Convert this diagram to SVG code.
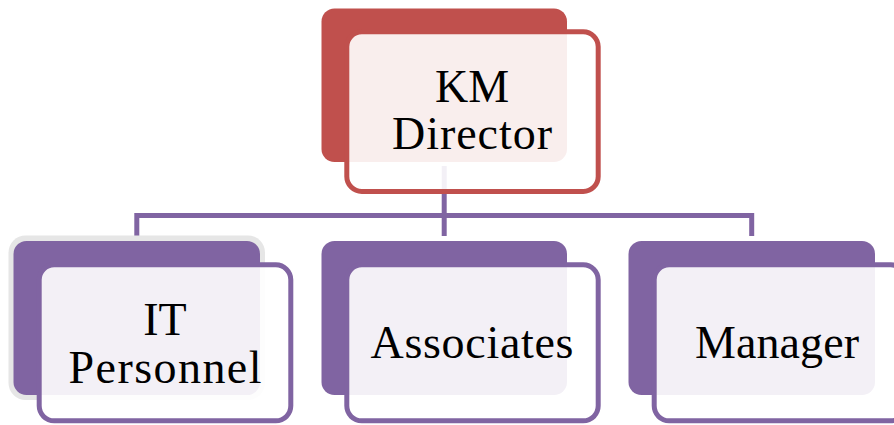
<svg xmlns="http://www.w3.org/2000/svg" width="894" height="425" viewBox="0 0 894 425">
  <style>
    .back-red { fill: #c0504d; }
    .back-purple { fill: #8064a2; }
    .front { fill: #ffffff; fill-opacity: 0.9; stroke-width: 5; }
    .front-red { stroke: #c0504d; }
    .front-purple { stroke: #8064a2; }
    .label { font-family: "Liberation Serif", "Times New Roman", serif; font-size: 46px; fill: #000000; text-anchor: middle; }
    .conn { fill: none; stroke: #8064a2; stroke-width: 5; stroke-linejoin: miter; stroke-linecap: butt; }
  </style>

  <!-- connectors: director down to the three reports -->
  <g id="connectors">
    <path class="conn" d="M444.2 166 V236"/>
    <path class="conn" d="M136.8 236 V215.5 H751.7 V236"/>
  </g>

  <g id="node-km-director">
    <rect class="back-red" x="321.5" y="8.5" width="245.5" height="153.5" rx="13"/>
    <rect class="front front-red" x="346.8" y="31.8" width="251.4" height="159.7" rx="15"/>
    <text class="label" x="472" y="102">KM</text>
    <text class="label" x="472" y="149" textLength="160">Director</text>
  </g>

  <g id="node-it-personnel">
    <rect x="8.5" y="235.5" width="256.5" height="164.5" rx="17" fill="#e6e6e6"/>
    <rect class="back-purple" x="13.5" y="241" width="246.5" height="154" rx="13"/>
    <rect class="front front-purple" x="39.2" y="264.8" width="251.6" height="156" rx="15"/>
    <text class="label" x="165" y="335">IT</text>
    <text class="label" x="165" y="383.3" textLength="193">Personnel</text>
  </g>

  <g id="node-associates">
    <rect class="back-purple" x="321.5" y="241" width="245.5" height="154" rx="13"/>
    <rect class="front front-purple" x="346.8" y="264.8" width="251.4" height="156" rx="15"/>
    <text class="label" x="472" y="358.3" textLength="203">Associates</text>
  </g>

  <g id="node-manager">
    <rect class="back-purple" x="628.5" y="241" width="246.5" height="154" rx="13"/>
    <rect class="front front-purple" x="654.2" y="264.8" width="251.6" height="156" rx="15"/>
    <text class="label" x="777" y="357.7" textLength="164">Manager</text>
  </g>
</svg>
